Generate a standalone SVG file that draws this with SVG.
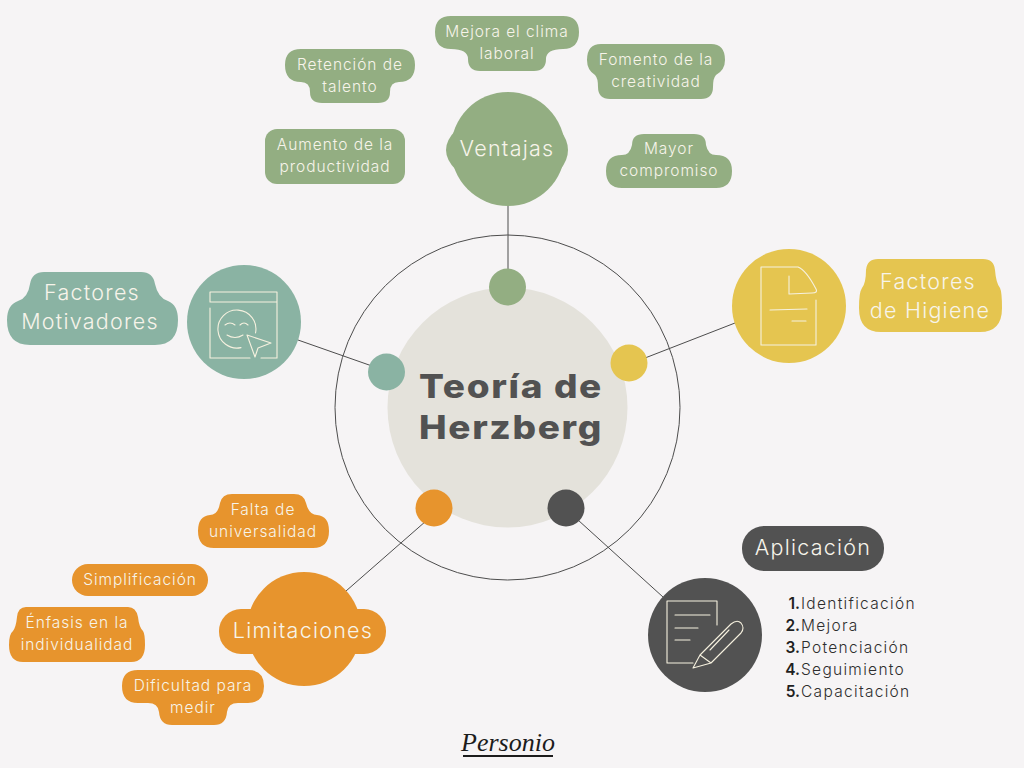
<svg xmlns="http://www.w3.org/2000/svg" width="1024" height="768" viewBox="0 0 1024 768">
<style>
text{font-family:"Inter","Noto Sans","Liberation Sans",sans-serif;text-anchor:middle}
.t{fill:#f7f4ea;font-size:15.500px;font-weight:300;letter-spacing:.95px}
.h{fill:#f7f4ea;font-size:21.500px;font-weight:300;letter-spacing:1.250px}
.g{fill:#93ae82}.m{fill:#8ab3a3}.y{fill:#e5c550}.o{fill:#e7942d}.d{fill:#525252}
.c{stroke:#4d4d4d;stroke-width:1;fill:none}
.i{stroke:#f6f1df;stroke-width:1.100;fill:none;stroke-linecap:round;stroke-linejoin:round}
.l{font-size:15.500px;font-weight:300;letter-spacing:1.300px;fill:#2e2e2e;text-anchor:start}
.n{font-size:15.500px;font-weight:600;fill:#1f1f1f;text-anchor:end}
.b{font-size:33px;font-weight:800;fill:#525252;letter-spacing:1.500px}
</style>
<rect width="1024" height="768" fill="#f6f4f5"/>
<g id="connectors" class="c">
<circle cx="507.500" cy="407.500" r="172.500"/>
<line x1="508" y1="205" x2="508" y2="272"/>
<line x1="645" y1="358" x2="735" y2="323"/>
<line x1="298" y1="340" x2="372" y2="366"/>
<line x1="346" y1="591" x2="426" y2="521"/>
<line x1="578" y1="520" x2="663" y2="597"/>
</g>
<g id="centro"><circle cx="507.500" cy="407.500" r="120" fill="#e4e2db"/>
<text class="b" transform="translate(511 398) scale(1.12 1)">Teoría de</text>
<text class="b" transform="translate(511 439) scale(1.12 1)">Herzberg</text></g>
<g id="punto-ventajas"><circle class="g" cx="507.500" cy="287" r="18.500"/></g>
<g id="punto-higiene"><circle class="y" cx="629" cy="363" r="18.500"/></g>
<g id="punto-motivadores"><circle class="m" cx="386.500" cy="372" r="18.500"/></g>
<g id="punto-limitaciones"><circle class="o" cx="434" cy="508" r="18.500"/></g>
<g id="punto-aplicacion"><circle class="d" cx="566" cy="508" r="18.500"/></g>

<g id="ventajas" class="g"><circle cx="508" cy="149" r="57"/><path d="M456 130Q446 140 446 150Q446 160 456 170H560Q568 160 568 150Q568 140 560 130Z"/><text class="h" x="507" y="156">Ventajas</text></g>
<g id="mejora" class="g"><path d="M451 16H563Q579 16 579 32Q579 49 563 49Q546 49 546 59Q546 71 534 71H480Q468 71 468 59Q468 49 451 49Q435 49 435 32Q435 16 451 16Z"/><text class="t" x="507" y="37">Mejora el clima</text><text class="t" x="507" y="59">laboral</text></g>
<g id="retencion" class="g"><path d="M301 49H399Q415 49 415 65Q415 82 399 82Q390 82 390 92Q390 103 378 103H322Q310 103 310 92Q310 82 301 82Q285 82 285 65Q285 49 301 49Z"/><text class="t" x="350" y="70">Retención de</text><text class="t" x="350" y="92">talento</text></g>
<g id="fomento" class="g"><path d="M601 44H711Q725 44 725 60Q725 70 716 75Q713 78 713 87Q713 99 701 99H610Q598 99 598 87Q598 78 595 75Q587 70 587 60Q587 44 601 44Z"/><text class="t" x="656" y="65">Fomento de la</text><text class="t" x="656" y="87">creatividad</text></g>
<g id="aumento" class="g"><rect x="265" y="129" width="140" height="55" rx="12"/><text class="t" x="335" y="150">Aumento de la</text><text class="t" x="335" y="172">productividad</text></g>
<g id="mayor" class="g"><path d="M644 134H694Q706 134 706 145Q708 155 716 155Q732 155 732 171Q732 188 716 188H622Q606 188 606 171Q606 155 622 155Q630 155 632 145Q632 134 644 134Z"/><text class="t" x="669" y="154">Mayor</text><text class="t" x="669" y="176">compromiso</text></g>

<g id="motivadores" class="m"><circle cx="244" cy="322" r="57"/><path d="M44 272H141Q153 272 155 284Q158 298 168 301Q178 305 178 320Q178 345 155 345H30Q7 345 7 320Q7 305 18 301Q28 298 30 284Q32 272 44 272Z"/>
<text class="h" x="92" y="300">Factores</text><text class="h" x="90" y="329">Motivadores</text>
<g class="i"><path d="M210 302V292H277V358H261M210 302H277M210 308V358H250"/><path d="M241 347.600A19 19 0 1 1 255.500 333M225 325q5-4 10 0M240 325q4-4 8 0M227 335q8 5 16 0"/><path d="M247 335L271 343L258 348L255 357Z"/></g></g>

<g id="higiene" class="y"><circle cx="789" cy="306" r="57"/><path d="M878 259H983Q994 259 995 270Q996 283 1000 288Q1002 292 1002 308Q1002 332 980 332H881Q859 332 859 308Q859 292 862 288Q866 283 866 270Q867 259 878 259Z"/>
<text class="h" x="928" y="289">Factores</text><text class="h" x="930" y="318">de Higiene</text>
<g class="i"><path d="M761 267V345H816V300M761 267H798Q806 270 816 289Q818 293 812 293L789 294V276M770 310L807 309M792 321H806"/></g></g>

<g id="aplicacion" class="d"><rect x="742" y="526" width="142" height="45" rx="22"/><text class="h" x="813" y="555">Aplicación</text>
<circle cx="705" cy="635" r="57"/>
<g class="i"><path d="M717 625V601H667V663H693M675 615H710M675 628H698M675 640H690"/><path d="M693 668L700 655L731 624Q737 619 741 623Q745 628 741 633L711 663ZM700 655L711 663M710 650L729 630"/></g></g>
<g id="lista"><text class="n" x="800" y="609">1.</text><text class="n" x="800" y="631">2.</text><text class="n" x="800" y="653">3.</text><text class="n" x="800" y="675">4.</text><text class="n" x="800" y="697">5.</text>
<text class="l" x="801" y="609">Identificación</text><text class="l" x="801" y="631">Mejora</text><text class="l" x="801" y="653">Potenciación</text><text class="l" x="801" y="675">Seguimiento</text><text class="l" x="801" y="697">Capacitación</text></g>

<g id="limitaciones" class="o"><circle cx="304" cy="629" r="57"/><rect x="219" y="609" width="167" height="45" rx="22"/><text class="h" x="303" y="638">Limitaciones</text></g>
<g id="falta" class="o"><path d="M232 494H294Q304 494 306 503Q309 515 317 515Q329 516 329 531Q329 548 313 548H214Q198 548 198 531Q198 516 210 515Q218 515 220 503Q222 494 232 494Z"/><text class="t" x="263" y="515">Falta de</text><text class="t" x="263" y="537">universalidad</text></g>
<g id="simplificacion" class="o"><rect x="72" y="564" width="136" height="32" rx="16"/><text class="t" x="140" y="585">Simplificación</text></g>
<g id="enfasis" class="o"><path d="M26 607H128Q136 607 138 617Q139 627 143 631Q145 634 145 645Q145 662 131 662H23Q9 662 9 645Q9 634 13 631Q16 627 17 617Q18 607 26 607Z"/><text class="t" x="77" y="628">Énfasis en la</text><text class="t" x="77" y="650">individualidad</text></g>
<g id="dificultad" class="o"><path d="M138 670H248Q264 670 264 686Q264 703 248 703H238Q228 703 227 712Q226 725 214 725H172Q160 725 159 712Q158 703 148 703H138Q122 703 122 686Q122 670 138 670Z"/><text class="t" x="193" y="691">Dificultad para</text><text class="t" x="193" y="713">medir</text></g>

<g id="logo"><text x="508" y="751" font-size="26" font-style="italic" fill="#1c1c1c" style="font-family:'Liberation Serif',serif">Personio</text><rect x="463" y="755" width="90" height="2" fill="#1c1c1c"/></g>
</svg>
